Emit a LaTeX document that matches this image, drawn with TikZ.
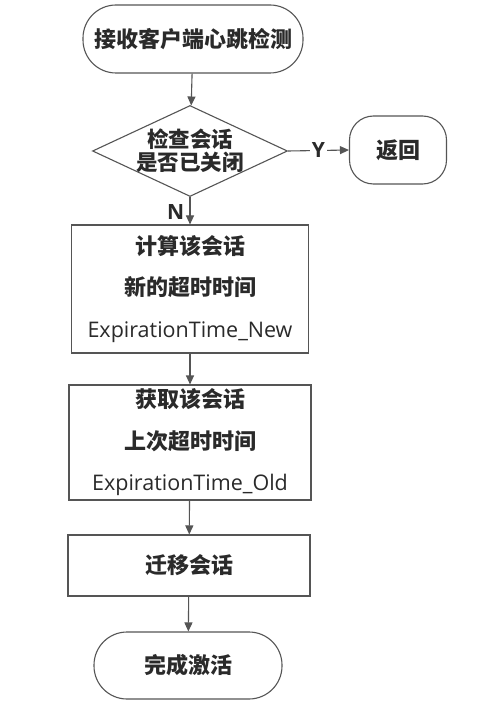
\documentclass[tikz,border=0pt]{standalone}
\usepackage{fontspec}
\setmainfont{Noto Sans CJK SC}
\newfontfamily\latinf{Open Sans}
\usetikzlibrary{shapes.geometric,arrows.meta}
\definecolor{ln}{HTML}{555555}
\definecolor{tx}{HTML}{2A2A2A}
\begin{document}
\begin{tikzpicture}[x=1pt,y=-1pt,
  every node/.style={text=tx, inner sep=0pt},
  base/.style={draw=ln, line width=1.1pt, fill=white},
  pill/.style={base, rounded corners=33pt, font=\fontsize{22}{24}\selectfont\bfseries},
  proc/.style={base, align=center, font=\fontsize{22}{41.5}\selectfont\bfseries},
  conn/.style={draw=ln, line width=1.1pt, -{Triangle[length=9pt,width=8pt]}},
  lbl/.style={font=\fontsize{21}{22}\selectfont\latinf\bfseries, fill=white, inner sep=1.5pt}
]
\useasboundingbox (0,0) rectangle (476,708);
\fill[white] (0,0) rectangle (476,708);

\node[pill, minimum width=220pt, minimum height=68pt] (start) at (193,39) {接收客户端心跳检测};
\node[base, diamond, minimum width=195pt, minimum height=91pt] (dec) at (190,151) {};
\node[align=center, font=\fontsize{21.5}{23}\selectfont\bfseries] (dect) at (dec.center) {检查会话\\是否已关闭};
\node[base, rounded corners=24pt, minimum width=97pt, minimum height=68pt, font=\fontsize{22}{24}\selectfont\bfseries] (ret) at (398,150) {返回};
\node[proc, minimum width=237pt, minimum height=128pt] (b1) at (190,289)
  {计算该会话\\新的超时时间\\{\latinf\mdseries\fontsize{21.5}{24}\selectfont ExpirationTime\_New}};
\node[proc, minimum width=242pt, minimum height=115pt] (b2) at (190,442.5)
  {获取该会话\\上次超时时间\\{\latinf\mdseries\fontsize{21.5}{24}\selectfont ExpirationTime\_Old}};
\node[proc, minimum width=242pt, minimum height=61pt] (b3) at (189,565.5) {迁移会话};
\node[pill, minimum width=188pt, minimum height=67pt] (end) at (188,665.5) {完成激活};

\draw[conn] (start) -- (dec);
\draw[conn] (dec.east) -- node[lbl] (ylab) {Y} (ret.west);
\draw[conn] (dec.south) -- (b1.north);
\node[lbl, fill=none, anchor=east] (nlab) at (186,212) {N};
\draw[conn] (b1) -- (b2);
\draw[conn] (b2) -- (b3);
\draw[conn] (b3) -- (end);
\end{tikzpicture}
\end{document}
